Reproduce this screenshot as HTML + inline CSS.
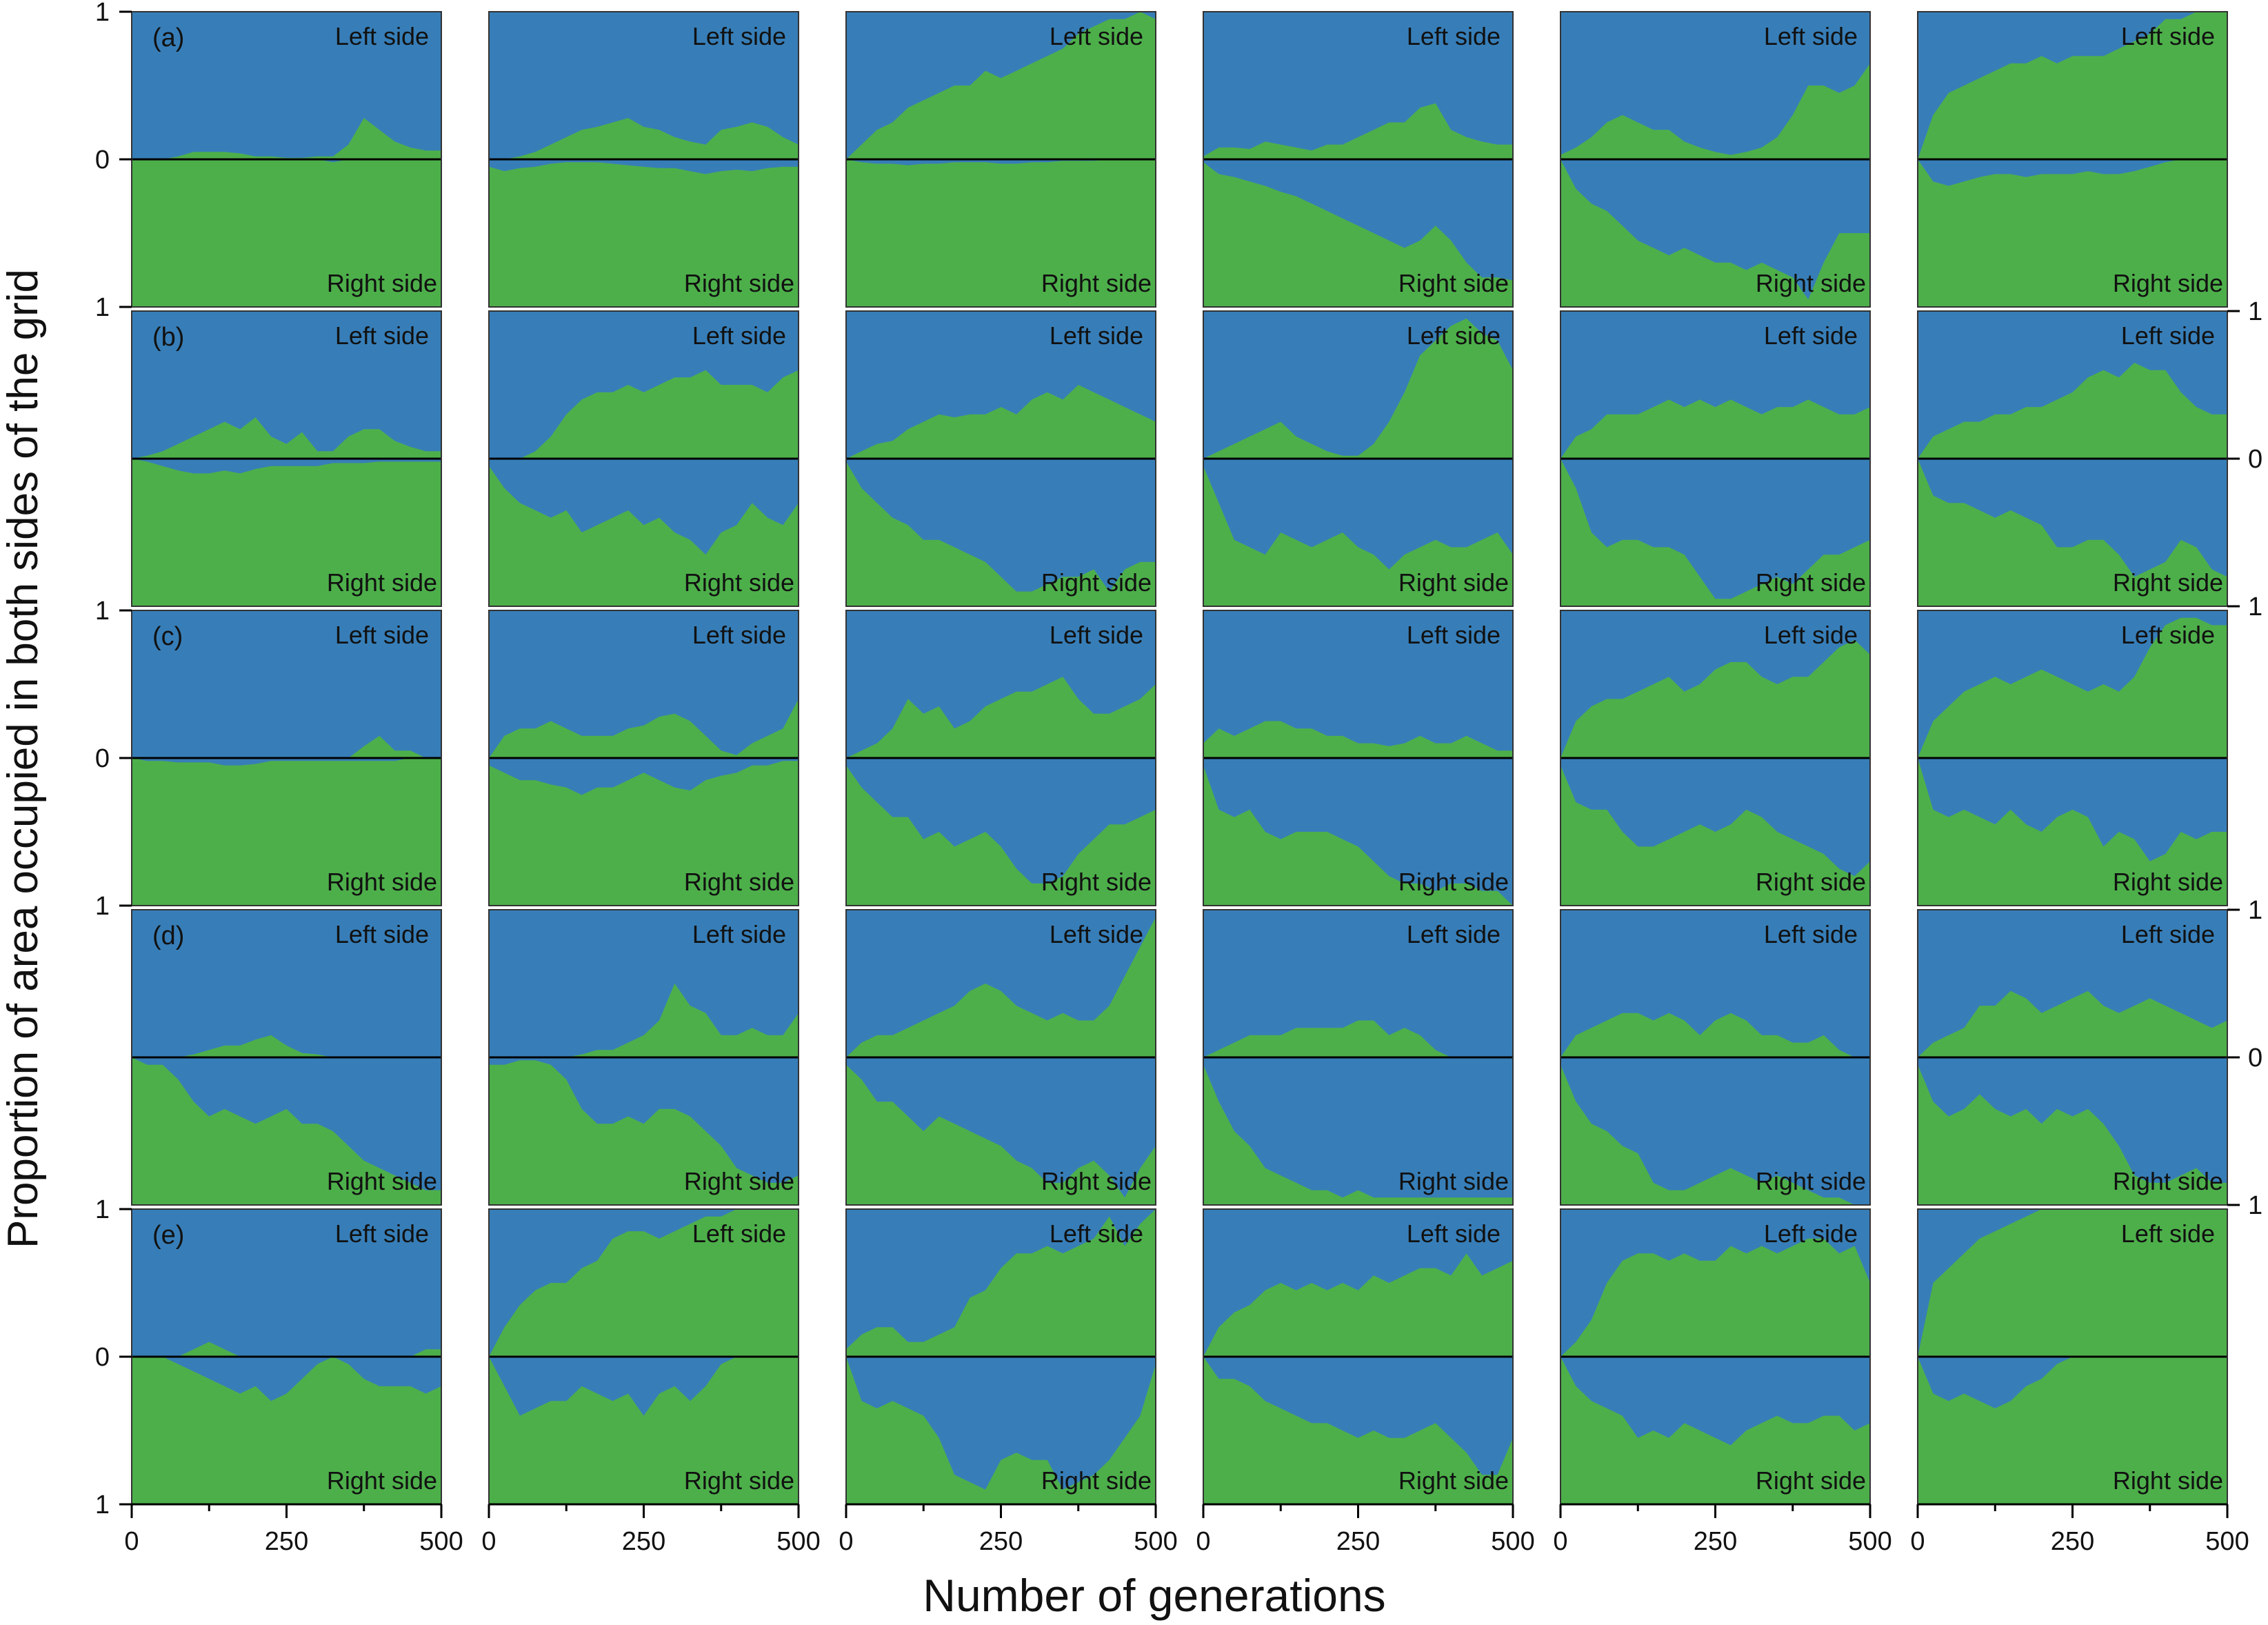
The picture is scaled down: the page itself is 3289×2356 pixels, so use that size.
<!DOCTYPE html>
<html><head><meta charset="utf-8"><style>
html,body{margin:0;padding:0;background:#fff}
svg{display:block}
text{font-family:"Liberation Sans",Arial,sans-serif;fill:#111}
</style></head><body>
<svg id="chart" width="3289" height="2356" viewBox="0 0 3289 2356" xmlns="http://www.w3.org/2000/svg"></svg>
<script>
const generations=[0,25,50,75,100,125,150,175,200,225,250,275,300,325,350,375,400,425,450,475,500];
const rowLetters=["a","b","c","d","e"];
const xTicks=[0,125,250,375,500];
const xTickLabels=["0","","250","","500"];
const yTickValues=[1,0,-1];
const yTickLabels=["1","0","1"];
const leftA1=[0,0,0,.02,.05,.05,.05,.04,.02,.02,.01,.01,.02,.02,.1,.28,.2,.12,.08,.06,.06];
const rightA1=[0,0,0,0,0,0,0,0,0,0,0,0,0,.02,0,0,0,0,0,0,0];
const leftA2=[0,0,.02,.05,.1,.15,.2,.22,.25,.28,.22,.2,.15,.12,.1,.2,.22,.25,.22,.15,.1];
const rightA2=[.05,.08,.06,.05,.03,.02,.02,.02,.03,.04,.05,.06,.06,.08,.1,.08,.07,.08,.06,.05,.05];
const leftA3=[0,.1,.2,.25,.35,.4,.45,.5,.5,.6,.55,.6,.65,.7,.75,.85,.9,.95,.95,1,.95];
const rightA3=[0,.02,.03,.03,.04,.03,.03,.02,.02,.02,.03,.03,.02,.02,.01,.01,.01,0,0,0,0];
const leftA4=[.02,.08,.08,.07,.12,.1,.08,.06,.1,.1,.15,.2,.25,.25,.35,.38,.2,.15,.12,.1,.1];
const rightA4=[.02,.1,.12,.15,.18,.22,.25,.3,.35,.4,.45,.5,.55,.6,.55,.45,.55,.7,.8,.8,.82];
const leftA5=[.03,.08,.15,.25,.3,.25,.2,.2,.12,.08,.05,.03,.05,.08,.15,.3,.5,.5,.45,.5,.65];
const rightA5=[0,.2,.3,.35,.45,.55,.6,.65,.6,.65,.7,.7,.75,.7,.75,.8,.95,.7,.5,.5,.5];
const leftA6=[0,.3,.45,.5,.55,.6,.65,.65,.7,.65,.7,.7,.7,.75,.8,.85,.95,.95,1,1,1];
const rightA6=[0,.15,.18,.15,.12,.1,.1,.12,.1,.1,.1,.08,.1,.1,.08,.05,.02,0,0,0,0];
const leftB1=[0,.02,.05,.1,.15,.2,.25,.2,.28,.15,.1,.18,.05,.05,.15,.2,.2,.12,.08,.05,.05];
const rightB1=[0,.02,.05,.08,.1,.1,.08,.1,.07,.05,.05,.05,.05,.03,.03,.03,.02,.02,.02,.02,.02];
const leftB2=[0,0,0,.05,.15,.3,.4,.45,.45,.5,.45,.5,.55,.55,.6,.5,.5,.5,.45,.55,.6];
const rightB2=[.05,.2,.3,.35,.4,.35,.5,.45,.4,.35,.45,.4,.5,.55,.65,.5,.45,.3,.4,.45,.3];
const leftB3=[0,.05,.1,.12,.2,.25,.3,.28,.3,.3,.35,.3,.4,.45,.4,.5,.45,.4,.35,.3,.25];
const rightB3=[.02,.2,.3,.4,.45,.55,.55,.6,.65,.7,.8,.9,.9,.85,.8,.8,.75,.9,.75,.7,.7];
const leftB4=[0,.05,.1,.15,.2,.25,.15,.1,.05,.02,.02,.1,.25,.45,.7,.8,.9,.95,.85,.8,.6];
const rightB4=[.05,.3,.55,.6,.65,.5,.55,.6,.55,.5,.6,.65,.75,.65,.6,.55,.6,.6,.55,.5,.65];
const leftB5=[0,.15,.2,.3,.3,.3,.35,.4,.35,.4,.35,.4,.35,.3,.35,.35,.4,.35,.3,.3,.35];
const rightB5=[0,.2,.5,.6,.55,.55,.6,.6,.65,.8,.95,.95,.9,.85,.8,.85,.75,.65,.65,.6,.55];
const leftB6=[0,.15,.2,.25,.25,.3,.3,.35,.35,.4,.45,.55,.6,.55,.65,.6,.6,.45,.35,.3,.3];
const rightB6=[0,.25,.3,.3,.35,.4,.35,.4,.45,.6,.6,.55,.55,.65,.8,.75,.7,.55,.6,.75,.8];
const leftC1=[0,0,0,0,0,0,0,0,0,0,0,0,0,0,0,.08,.15,.05,.05,0,0];
const rightC1=[0,.02,.02,.03,.03,.03,.05,.05,.04,.02,.02,.02,.02,.02,.02,.02,.02,.02,0,0,0];
const leftC2=[0,.15,.2,.2,.25,.2,.15,.15,.15,.2,.22,.28,.3,.25,.15,.05,.02,.1,.15,.2,.4];
const rightC2=[.05,.1,.15,.15,.18,.2,.25,.2,.2,.15,.1,.15,.2,.22,.15,.12,.1,.05,.05,.02,.02];
const leftC3=[0,.05,.1,.2,.4,.3,.35,.2,.25,.35,.4,.45,.45,.5,.55,.4,.3,.3,.35,.4,.5];
const rightC3=[.05,.2,.3,.4,.4,.55,.5,.6,.55,.5,.6,.75,.85,.85,.8,.65,.55,.45,.45,.4,.35];
const leftC4=[.1,.2,.15,.2,.25,.25,.2,.2,.15,.15,.1,.1,.08,.1,.15,.1,.1,.15,.1,.05,.05];
const rightC4=[.05,.35,.4,.35,.5,.55,.5,.5,.5,.55,.6,.7,.8,.85,.85,.9,.85,.85,.9,.9,1];
const leftC5=[0,.25,.35,.4,.4,.45,.5,.55,.45,.5,.6,.65,.65,.55,.5,.55,.55,.65,.75,.8,.7];
const rightC5=[.05,.3,.35,.35,.5,.6,.6,.55,.5,.45,.5,.45,.35,.4,.5,.55,.6,.65,.75,.8,.7];
const leftC6=[0,.25,.35,.45,.5,.55,.5,.55,.6,.55,.5,.45,.5,.45,.55,.75,.9,.95,.95,.9,.9];
const rightC6=[0,.35,.4,.35,.4,.45,.35,.45,.5,.4,.35,.4,.6,.5,.55,.7,.65,.5,.55,.5,.5];
const leftD1=[0,0,0,0,.02,.05,.08,.08,.12,.15,.08,.03,.02,0,0,0,0,0,0,0,0];
const rightD1=[0,.05,.05,.15,.3,.4,.35,.4,.45,.4,.35,.45,.45,.5,.6,.7,.75,.8,.85,.9,.9];
const leftD2=[0,0,0,0,0,0,.02,.05,.05,.1,.15,.25,.5,.35,.3,.15,.15,.2,.15,.15,.3];
const rightD2=[.05,.05,.02,.02,.05,.15,.35,.45,.45,.4,.45,.35,.35,.4,.5,.6,.75,.8,.85,.85,.8];
const leftD3=[0,.1,.15,.15,.2,.25,.3,.35,.45,.5,.45,.35,.3,.25,.3,.25,.25,.35,.55,.75,.95];
const rightD3=[.05,.15,.3,.3,.4,.5,.4,.45,.5,.55,.6,.7,.75,.85,.85,.75,.7,.8,.95,.75,.6];
const leftD4=[0,.05,.1,.15,.15,.15,.2,.2,.2,.2,.25,.25,.15,.2,.15,.05,0,0,0,0,0];
const rightD4=[.05,.3,.5,.6,.75,.8,.85,.9,.9,.95,.9,.95,.95,.95,.95,.95,.95,.95,.95,.95,.95];
const leftD5=[0,.15,.2,.25,.3,.3,.25,.3,.25,.15,.25,.3,.25,.15,.15,.1,.1,.15,.05,0,0];
const rightD5=[.05,.3,.45,.5,.6,.65,.85,.9,.9,.85,.8,.75,.8,.85,.8,.85,.9,.95,.95,1,1];
const leftD6=[0,.1,.15,.2,.35,.35,.45,.4,.3,.35,.4,.45,.35,.3,.35,.4,.35,.3,.25,.2,.25];
const rightD6=[.05,.3,.4,.35,.25,.35,.4,.35,.45,.35,.4,.35,.45,.6,.8,.85,.85,.8,.75,.85,.85];
const leftE1=[0,0,0,0,.05,.1,.05,0,0,0,0,0,0,0,0,0,0,0,0,.05,.05];
const rightE1=[0,0,0,.05,.1,.15,.2,.25,.2,.3,.25,.15,.05,0,.05,.15,.2,.2,.2,.25,.2];
const leftE2=[0,.2,.35,.45,.5,.5,.6,.65,.8,.85,.85,.8,.85,.9,.95,.95,1,1,1,1,1];
const rightE2=[0,.2,.4,.35,.3,.3,.2,.25,.3,.25,.4,.25,.2,.3,.2,.05,0,0,0,0,0];
const leftE3=[.05,.15,.2,.2,.1,.1,.15,.2,.4,.45,.6,.7,.7,.75,.7,.75,.8,.95,.75,.9,1];
const rightE3=[0,.3,.35,.3,.35,.4,.55,.8,.85,.9,.7,.65,.7,.7,.9,.85,.8,.7,.55,.4,.05];
const leftE4=[0,.2,.3,.35,.45,.5,.45,.5,.45,.5,.45,.55,.5,.55,.6,.6,.55,.7,.55,.6,.65];
const rightE4=[0,.15,.15,.2,.3,.35,.4,.45,.45,.5,.55,.5,.55,.55,.5,.45,.55,.65,.8,.8,.55];
const leftE5=[0,.1,.25,.5,.65,.7,.7,.65,.7,.65,.65,.75,.7,.75,.7,.75,.8,.8,.7,.75,.5];
const rightE5=[0,.2,.3,.35,.4,.55,.5,.55,.45,.5,.55,.6,.5,.45,.4,.45,.45,.4,.4,.5,.45];
const leftE6=[0,.5,.6,.7,.8,.85,.9,.95,1,1,1,1,1,1,1,1,1,1,1,1,1];
const rightE6=[0,.25,.3,.25,.3,.35,.3,.2,.15,.05,0,0,0,0,0,0,0,0,0,0,0];

const leftSide=[[leftA1,leftA2,leftA3,leftA4,leftA5,leftA6],[leftB1,leftB2,leftB3,leftB4,leftB5,leftB6],[leftC1,leftC2,leftC3,leftC4,leftC5,leftC6],[leftD1,leftD2,leftD3,leftD4,leftD5,leftD6],[leftE1,leftE2,leftE3,leftE4,leftE5,leftE6]];
const rightSide=[[rightA1,rightA2,rightA3,rightA4,rightA5,rightA6],[rightB1,rightB2,rightB3,rightB4,rightB5,rightB6],[rightC1,rightC2,rightC3,rightC4,rightC5,rightC6],[rightD1,rightD2,rightD3,rightD4,rightD5,rightD6],[rightE1,rightE2,rightE3,rightE4,rightE5,rightE6]];

const NS="http://www.w3.org/2000/svg";
const svg=document.getElementById("chart");
const BLUE="#377eb8",GREEN="#4daf4a";
const colX0=191,colPitch=518,pw=449;
const rowY0=17,rowPitch=434,ph=428;
function mk(tag,attrs,parent){const e=document.createElementNS(NS,tag);for(const k in attrs)e.setAttribute(k,attrs[k]);(parent||svg).appendChild(e);return e;}
function xScale(c,g){return colX0+c*colPitch+g/500*pw;}
function yScale(r,v){return rowY0+r*rowPitch+ph/2-v*ph/2;}

for(let r=0;r<5;r++){
  for(let c=0;c<6;c++){
    const x0=colX0+c*colPitch,y0=rowY0+r*rowPitch,yz=yScale(r,0);
    const g=mk("g",{});
    
    
    const bt=mk("rect",{x:x0,y:y0,width:pw,height:ph/2,fill:BLUE},g);
    
    
    const bb=mk("rect",{x:x0,y:yz,width:pw,height:ph/2,fill:GREEN},g);
    
    
    const L=leftSide[r][c],R=rightSide[r][c];
    let p="M"+xScale(c,0)+","+yz;
    generations.forEach((gen,i)=>{p+=" L"+xScale(c,gen).toFixed(1)+","+yScale(r,L[i]).toFixed(1);});
    p+=" L"+xScale(c,500)+","+yz+" Z";
    const la=mk("path",{d:p,fill:GREEN},g);
    
    
    let q="M"+xScale(c,0)+","+yz;
    generations.forEach((gen,i)=>{q+=" L"+xScale(c,gen).toFixed(1)+","+yScale(r,-R[i]).toFixed(1);});
    q+=" L"+xScale(c,500)+","+yz+" Z";
    const ra=mk("path",{d:q,fill:BLUE},g);
    
    
    const zl=mk("line",{x1:x0,x2:x0+pw,y1:yz,y2:yz,stroke:"#000","stroke-width":3},g);
    
    
    const br=mk("rect",{x:x0,y:y0,width:pw,height:ph,fill:"none",stroke:"#333","stroke-width":2},g);
    
    
    const t1=mk("text",{x:x0+pw-18,y:y0+48,"text-anchor":"end","font-size":36},g);
    t1.textContent="Left side";
    
    
    const t2=mk("text",{x:x0+pw-6,y:y0+ph-22,"text-anchor":"end","font-size":36},g);
    t2.textContent="Right side";
    
    
    if(c===0){
      const pl=mk("text",{x:x0+30,y:y0+50,"font-size":38},g);
      pl.textContent="("+rowLetters[r]+")";
      
      
    }
    if(c===0&&r%2===0){
      yTickValues.forEach((v,i)=>{
        const yy=yScale(r,v);
        const tk=mk("line",{x1:x0-18,x2:x0,y1:yy,y2:yy,stroke:"#000","stroke-width":3});
        
        
        const tl=mk("text",{x:x0-32,y:yy+13,"text-anchor":"end","font-size":38});
        tl.textContent=yTickLabels[i];
        
        
      });
    }
    if(c===5&&r%2===1){
      yTickValues.forEach((v,i)=>{
        const yy=yScale(r,v);
        const tk=mk("line",{x1:x0+pw,x2:x0+pw+18,y1:yy,y2:yy,stroke:"#000","stroke-width":3});
        
        
        const tl=mk("text",{x:x0+pw+30,y:yy+13,"text-anchor":"start","font-size":38});
        tl.textContent=yTickLabels[i];
        
        
      });
    }
    if(r===4){
      const yb=y0+ph;
      const al=mk("line",{x1:x0,x2:x0+pw,y1:yb,y2:yb,stroke:"#000","stroke-width":3});
      
      
      xTicks.forEach((t,i)=>{
        const xx=xScale(c,t);
        const major=xTickLabels[i]!=="";
        const tk=mk("line",{x1:xx,x2:xx,y1:yb,y2:yb+(major?20:10),stroke:"#000","stroke-width":3});
        
        
        if(major){
          const tl=mk("text",{x:xx,y:yb+66,"text-anchor":"middle","font-size":38});
          tl.textContent=xTickLabels[i];
          
          
        }
      });
    }
  }
}
const xt=mk("text",{x:1674,y:2336,"text-anchor":"middle","font-size":66});
xt.textContent="Number of generations";


const yt=mk("text",{x:0,y:0,"text-anchor":"middle","font-size":62,transform:"translate(54,1100) rotate(-90)"});
yt.textContent="Proportion of area occupied in both sides of the grid";


</script>
</body></html>
